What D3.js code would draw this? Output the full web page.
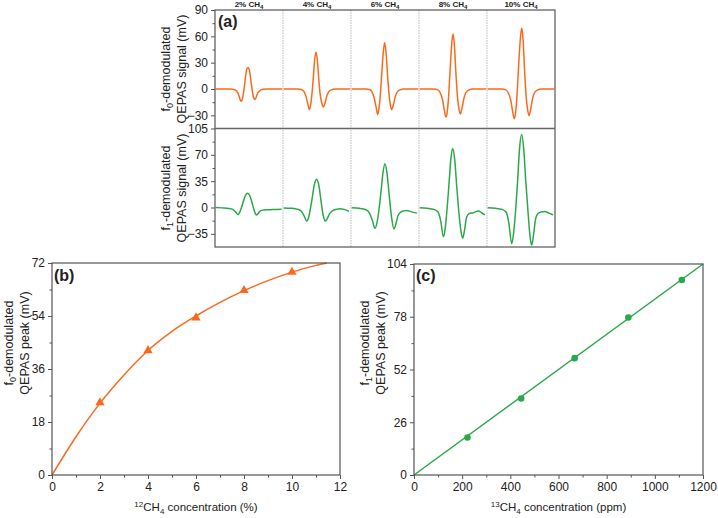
<!DOCTYPE html>
<html>
<head>
<meta charset="utf-8">
<script src="https://cdn.jsdelivr.net/npm/d3@7"></script>
<style>
body { margin: 0; background: #fff; }
text { font-family: "Liberation Sans", Arial, sans-serif; fill: #222; }
</style>
</head>
<body>
<svg id="fig" width="718" height="518"></svg>
<script>
// ---------- data ----------
var concLabels = ["2%", "4%", "6%", "8%", "10%"];

// panel (a): each trace is [position inside its window (0-100), signal in mV]
var f0Traces = [
  [[1,0],[22,0],[28,-0.5],[32,-2.5],[35,-7],[37,-12],[38.5,-14],[40,-12],[42,-4],[44,8],[46,20],[48.5,24.5],[51,20],[53,8],[55,-3],[57,-10],[58.5,-12],[60,-10.5],[62,-6],[65,-2.5],[69,-0.6],[75,0],[99,0]],
  [[1,0],[22,0],[27,-0.5],[31,-3],[34,-9],[36.5,-17],[38.7,-23.5],[40.5,-19],[42.5,-6],[44.5,12],[46.5,33],[48.5,42],[50.5,33],[52.5,12],[54.5,-5],[57,-16],[59.3,-20.5],[61.5,-17],[64,-9],[67,-3.5],[71,-1],[77,0],[99,0]],
  [[1,0],[22,0],[27,-0.6],[31,-3.5],[34,-10],[37,-21],[39.2,-29],[41,-23],[43,-8],[45,15],[47.5,42],[49.5,53],[51.5,42],[54,13],[56,-6],[58,-19],[59.8,-23.5],[62,-19],[65,-9],[68,-3.5],[72,-1],[78,0],[99,0]],
  [[1,0],[22,0],[27,-0.7],[31,-4],[34.5,-12],[37.5,-25],[39.7,-32],[41.5,-26],[43.5,-9],[45.5,18],[48,50],[50,63],[52,50],[54.5,15],[56.5,-8],[58.8,-23],[60.8,-28.5],[63,-23],[66,-11],[69,-4],[73,-1.2],[79,0],[99,0]],
  [[1,0],[22,0],[27,-0.7],[31,-4],[35,-13],[38,-27],[40.2,-33.8],[42,-27],[44,-9],[46,19],[49,57],[51,69.5],[53,57],[55.5,18],[57.5,-8],[60,-25],[61.8,-30.4],[64,-24],[67,-11],[70,-4],[74,-1.2],[80,0],[99,0]]
];
var f1Traces = [
  [[1,0],[10,-0.5],[20,-1.2],[26,-2.5],[30,-5.5],[33.8,-9.4],[36.5,-6],[39,0],[42,9],[45,16.5],[48,19],[51,16],[54,8],[57,-2],[59.5,-8.5],[61.3,-10],[63.5,-8],[66,-5],[70,-3.5],[76,-3],[85,-2.8],[98,-2.2]],
  [[1,-0.5],[12,-1],[22,-2.5],[27,-5],[31,-11],[34.8,-18],[37.5,-14],[40,-3],[43,13],[46,30],[49.5,37.5],[53,28],[56,8],[59,-10],[62.3,-18],[65,-15],[68,-9],[72,-5],[78,-2.5],[84,-1.5],[90,-2.5],[97,-5]],
  [[1,-0.3],[12,-1],[22,-3],[27,-7],[31,-16],[35.3,-27.5],[38,-21],[41,-4],[44,20],[47,46],[50,58],[53,45],[56,18],[59.5,-12],[63.2,-28.5],[66,-22],[69,-11],[73,-6],[78,-4.5],[82,-4],[88,-5.5],[97,-7.5]],
  [[1,-0.3],[12,-1],[22,-2.5],[28,-6],[32,-18],[35.8,-39],[38.5,-28],[41,-5],[44,30],[47,66],[49.5,78.5],[52.5,64],[55.5,28],[59,-10],[62,-33],[64.2,-40.8],[67,-30],[70,-13],[74,-8],[80,-7],[87.3,-4.5],[92,-7],[97,-9.8]],
  [[1,-0.3],[12,-1],[22,-2.5],[28,-6],[32,-20],[36.3,-48],[39,-35],[42,-5],[45,35],[48,80],[51,97],[54,78],[57,35],[60.5,-8],[63.5,-40],[65.7,-50],[68.5,-36],[71.5,-15],[75,-8],[80,-6],[85.3,-5.4],[91,-7.5],[97,-9.8]]
];
var f0Domain = [-45, 90], f0Ticks = [-30, 0, 30, 60, 90], f0Minor = [-15, 15, 45, 75];
var f1Domain = [-52.5, 105], f1Ticks = [-35, 0, 35, 70, 105], f1Minor = [-17.5, 17.5, 52.5, 87.5];

// panel (b)
var conc12 = [2, 4, 6, 8, 10];
var peak12 = [24.6, 42.3, 53.4, 62.7, 68.9];
var fit12 = [[0,0],[1,13],[2,24.4],[3,34],[4,42.3],[5,48.8],[6,54],[7,58.6],[8,62.6],[9,66],[10,68.9],[11,71.2],[11.45,72]];
var bTicksX = [0, 2, 4, 6, 8, 10, 12], bMinorX = [1, 3, 5, 7, 9, 11];
var bTicksY = [0, 18, 36, 54, 72], bMinorY = [9, 27, 45, 63];

// panel (c)
var conc13 = [222, 445, 667, 890, 1112];
var peak13 = [18.5, 37.7, 57.6, 77.6, 96.1];
var fit13 = [[0, 0], [1200, 104]];
var cTicksX = [0, 200, 400, 600, 800, 1000, 1200], cMinorX = [100, 300, 500, 700, 900, 1100];
var cTicksY = [0, 26, 52, 78, 104], cMinorY = [13, 39, 65, 91];

// ---------- drawing ----------
var orange = "#fa6a1c", green = "#2aa84a", axisCol = "#555";
var svg = d3.select("#fig");

function styleAxis(g) {
  g.select(".domain").remove();
  g.selectAll("line").attr("stroke", axisCol);
  g.selectAll("text").attr("font-size", 12).attr("fill", "#222")
    .attr("font-family", "'Liberation Sans', Arial, sans-serif");
}

function yAxis(scale, x, major, minor) {
  svg.append("g").attr("transform", "translate(" + x + ",0)")
    .call(d3.axisLeft(scale).tickValues(major).tickSize(4).tickPadding(3).tickFormat(d3.format("")))
    .call(styleAxis);
  svg.append("g").attr("transform", "translate(" + x + ",0)")
    .call(d3.axisLeft(scale).tickValues(minor).tickSize(2.5).tickFormat(""))
    .call(styleAxis);
}

function xAxis(scale, y, major, minor) {
  svg.append("g").attr("transform", "translate(0," + y + ")")
    .call(d3.axisBottom(scale).tickValues(major).tickSize(4).tickPadding(3).tickFormat(d3.format("")))
    .call(styleAxis);
  svg.append("g").attr("transform", "translate(0," + y + ")")
    .call(d3.axisBottom(scale).tickValues(minor).tickSize(2.5).tickFormat(""))
    .call(styleAxis);
}

function frame(x0, y0, x1, y1) {
  svg.append("rect").attr("x", x0).attr("y", y0)
    .attr("width", x1 - x0).attr("height", y1 - y0)
    .attr("fill", "none").attr("stroke", axisCol).attr("stroke-width", 1.2);
}

// two-line rotated y title, first line has a subscript on "f"
function yTitle(cx, cy, sub, line2, len1, len2) {
  var t1 = svg.append("text").attr("transform", "translate(" + cx + "," + cy + ") rotate(-90)")
    .attr("text-anchor", "middle").attr("font-size", 12.5);
  t1.append("tspan").text("f");
  t1.append("tspan").attr("dy", 3).attr("font-size", 9).text(sub);
  t1.append("tspan").attr("dy", -3).text("-demodulated");
  svg.append("text").attr("transform", "translate(" + (cx + 15.5) + "," + cy + ") rotate(-90)")
    .attr("text-anchor", "middle").attr("font-size", 12.5).text(line2);
}

function xTitle(cx, y, sup, unit) {
  var t = svg.append("text").attr("x", cx).attr("y", y)
    .attr("text-anchor", "middle").attr("font-size", 11.5);
  t.append("tspan").attr("dy", -4).attr("font-size", 8).text(sup);
  t.append("tspan").attr("dy", 4).text("CH");
  t.append("tspan").attr("dy", 3).attr("font-size", 8).text("4");
  t.append("tspan").attr("dy", -3).text(" concentration (" + unit + ")");
}

// ===== panel (a) =====
var aL = 215, aR = 555, aT = 10, aM = 128.5, aB = 247;
var xA = d3.scaleLinear().domain([0, concLabels.length * 100]).range([aL, aR]);
var yTop = d3.scaleLinear().domain(f0Domain).range([aM, aT]);
var yBot = d3.scaleLinear().domain(f1Domain).range([aB, aM]);

// window separators
svg.append("g").selectAll("line")
  .data(d3.range(1, concLabels.length)).enter().append("line")
  .attr("x1", function(d) { return xA(d * 100); })
  .attr("x2", function(d) { return xA(d * 100); })
  .attr("y1", aT).attr("y2", aB)
  .attr("stroke", "#bbb").attr("stroke-width", 1).attr("stroke-dasharray", "1.5,1");

function drawTraces(traces, yS, col) {
  traces.forEach(function(tr, i) {
    var line = d3.line()
      .x(function(d) { return xA(i * 100 + d[0]); })
      .y(function(d) { return yS(d[1]); })
      .curve(d3.curveMonotoneX);
    svg.append("path").datum(tr).attr("d", line)
      .attr("fill", "none").attr("stroke", col).attr("stroke-width", 1.5);
  });
}
drawTraces(f0Traces, yTop, orange);
drawTraces(f1Traces, yBot, green);

frame(aL, aT, aR, aB);
svg.append("line").attr("x1", aL).attr("x2", aR).attr("y1", aM).attr("y2", aM)
  .attr("stroke", "#666").attr("stroke-width", 1.6);
yAxis(yTop, aL, f0Ticks.slice(0), f0Minor);
yAxis(yBot, aL, f1Ticks, f1Minor);

// column labels
concLabels.forEach(function(c, i) {
  var t = svg.append("text").attr("x", xA(i * 100 + 50)).attr("y", 7)
    .attr("text-anchor", "middle").attr("font-size", 8).attr("font-weight", "bold");
  t.append("tspan").text(c + " CH");
  t.append("tspan").attr("dy", 2).attr("font-size", 6).text("4");
});

svg.append("text").attr("x", 218).attr("y", 27).attr("font-size", 16)
  .attr("font-weight", "bold").text("(a)");
yTitle(170, 69, "0", "QEPAS signal (mV)");
yTitle(170, 188, "1", "QEPAS signal (mV)");

// ===== panel (b) =====
var bL = 52, bR = 340, bT = 263, bB = 475;
var xB = d3.scaleLinear().domain([0, 12]).range([bL, bR]);
var yB = d3.scaleLinear().domain([0, 72]).range([bB, bT]);

svg.append("path").datum(fit12)
  .attr("d", d3.line().x(function(d) { return xB(d[0]); }).y(function(d) { return yB(d[1]); }).curve(d3.curveMonotoneX))
  .attr("fill", "none").attr("stroke", orange).attr("stroke-width", 1.5);
svg.append("g").selectAll("path").data(conc12).enter().append("path")
  .attr("d", d3.symbol(d3.symbolTriangle, 38))
  .attr("transform", function(d, i) { return "translate(" + xB(d) + "," + yB(peak12[i]) + ")"; })
  .attr("fill", orange);

frame(bL, bT, bR, bB);
xAxis(xB, bB, bTicksX, bMinorX);
yAxis(yB, bL, bTicksY, bMinorY);
svg.append("text").attr("x", 54).attr("y", 281).attr("font-size", 16)
  .attr("font-weight", "bold").text("(b)");
yTitle(13, 343, "0", "QEPAS peak (mV)");
xTitle((bL + bR) / 2, 511, "12", "%");

// ===== panel (c) =====
var cL = 414, cR = 703, cT = 264, cB = 475;
var xC = d3.scaleLinear().domain([0, 1200]).range([cL, cR]);
var yC = d3.scaleLinear().domain([0, 104]).range([cB, cT]);

svg.append("path").datum(fit13)
  .attr("d", d3.line().x(function(d) { return xC(d[0]); }).y(function(d) { return yC(d[1]); }))
  .attr("fill", "none").attr("stroke", green).attr("stroke-width", 1.5);
svg.append("g").selectAll("circle").data(conc13).enter().append("circle")
  .attr("cx", function(d) { return xC(d); })
  .attr("cy", function(d, i) { return yC(peak13[i]); })
  .attr("r", 3.3).attr("fill", green);

frame(cL, cT, cR, cB);
xAxis(xC, cB, cTicksX, cMinorX);
yAxis(yC, cL, cTicksY, cMinorY);
svg.append("text").attr("x", 416).attr("y", 281).attr("font-size", 16)
  .attr("font-weight", "bold").text("(c)");
yTitle(369, 343, "1", "QEPAS peak (mV)");
xTitle((cL + cR) / 2, 511, "13", "ppm");
</script>
</body>
</html>
